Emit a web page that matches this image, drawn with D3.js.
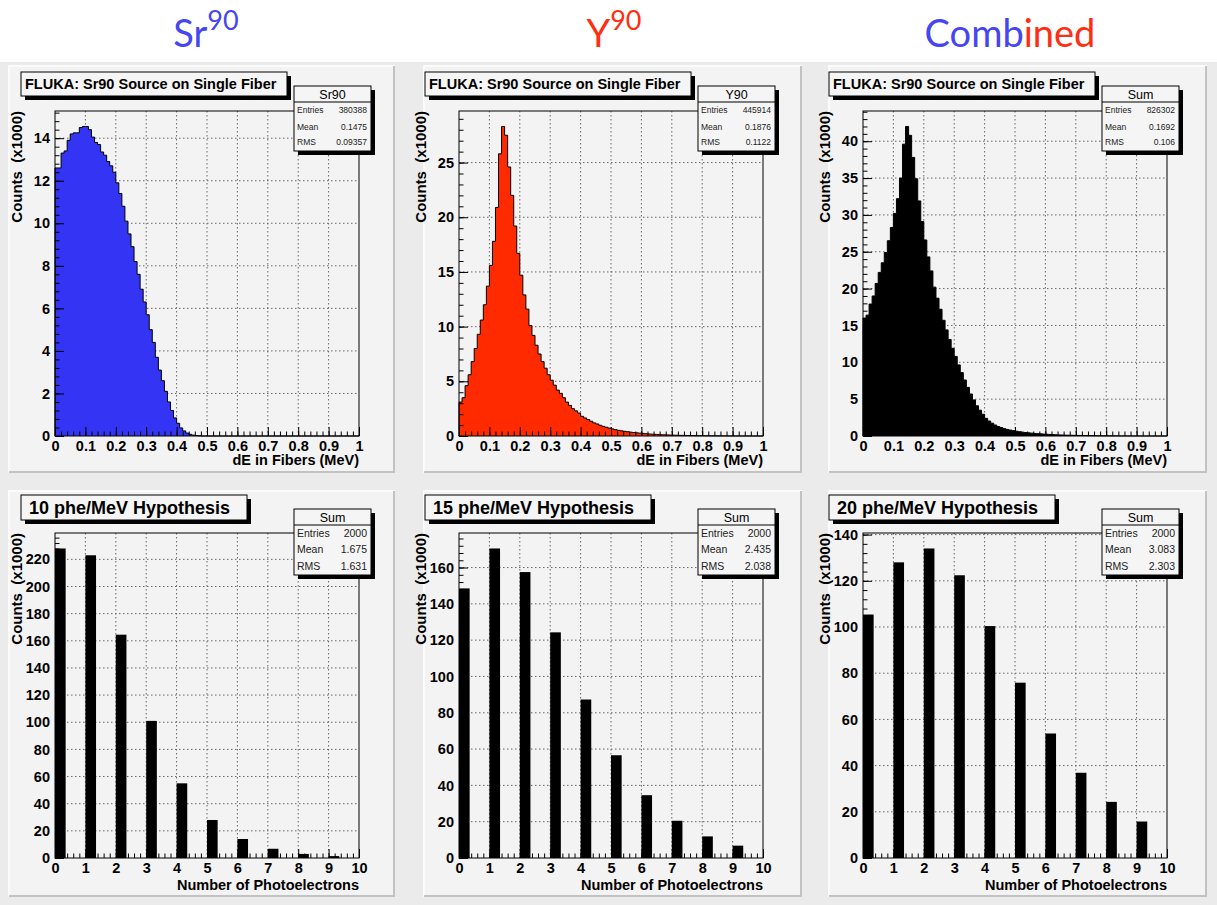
<!DOCTYPE html>
<html>
<head>
<meta charset="utf-8">
<script src="https://cdn.jsdelivr.net/npm/d3@7"></script>
<style>
html, body { margin: 0; padding: 0; background: #fff; }
svg { display: block; }
text { font-family: "Liberation Sans", Arial, Helvetica, sans-serif; }
</style>
</head>
<body>
<svg id="chart" width="1217" height="905"></svg>
<script>
// energy deposit histograms, 100 bins over 0..1 MeV, counts in thousands
const energyRange = [0, 1];
const srCounts = [
  12.6, 12.6, 13.3, 13.4, 13.9, 14.2, 14.25, 14.25, 14.5, 14.55,
  14.55, 14.4, 14.05, 13.8, 13.7, 13.35, 13.2, 12.9, 12.7, 12.4,
  11.9, 11.4, 10.8, 10.1, 9.5, 8.9, 8.2, 7.6, 6.9, 6.3,
  5.7, 5.0, 4.4, 3.7, 3.1, 2.6, 2.1, 1.6, 1.2, 0.85,
  0.6, 0.38, 0.24, 0.14, 0.08, 0.04, 0.02, 0.01, 0, 0,
  0, 0, 0, 0, 0, 0, 0, 0, 0, 0,
  0, 0, 0, 0, 0, 0, 0, 0, 0, 0,
  0, 0, 0, 0, 0, 0, 0, 0, 0, 0,
  0, 0, 0, 0, 0, 0, 0, 0, 0, 0,
  0, 0, 0, 0, 0, 0, 0, 0, 0, 0
];
const yCounts = [
  3.1, 3.5, 4.6, 5.6, 6.8, 8.0, 9.3, 10.6, 12.0, 13.7,
  15.6, 17.8, 20.9, 25.8, 28.3, 27.5, 24.6, 22.0, 19.2, 16.7,
  14.7, 12.9, 11.6, 10.1, 9.2, 8.3, 7.5, 6.8, 6.2, 5.6,
  5.1, 4.65, 4.2, 3.9, 3.5, 3.1, 2.8, 2.5, 2.3, 2.1,
  1.8, 1.65, 1.5, 1.35, 1.2, 1.1, 0.98, 0.88, 0.8, 0.72,
  0.65, 0.58, 0.52, 0.47, 0.43, 0.39, 0.35, 0.32, 0.29, 0.26,
  0.24, 0.21, 0.19, 0.17, 0.15, 0.14, 0.12, 0.11, 0.1, 0.09,
  0.08, 0.07, 0.06, 0.055, 0.05, 0.045, 0.04, 0.035, 0.03, 0.028,
  0.025, 0.022, 0.02, 0.018, 0.016, 0.014, 0.012, 0.01, 0.009, 0.008,
  0.007, 0.006, 0.005, 0.004, 0.003, 0.002, 0.002, 0.001, 0.001, 0
];
const sumCounts = [
  16.0, 16.4, 17.9, 19.0, 20.7, 22.2, 23.5, 24.9, 26.5, 28.3,
  30.2, 32.2, 35.0, 39.6, 42.0, 40.8, 37.8, 34.9, 31.9, 29.1,
  26.6, 24.3, 22.4, 20.2, 18.7, 17.2, 15.7, 14.4, 13.1, 11.9,
  10.8, 9.65, 8.6, 7.6, 6.6, 5.7, 4.9, 4.1, 3.5, 2.95,
  2.4, 2.03, 1.74, 1.49, 1.28, 1.14, 1.0, 0.89, 0.8, 0.72,
  0.65, 0.58, 0.52, 0.47, 0.43, 0.39, 0.35, 0.32, 0.29, 0.26,
  0.24, 0.21, 0.19, 0.17, 0.15, 0.14, 0.12, 0.11, 0.1, 0.09,
  0.08, 0.07, 0.06, 0.055, 0.05, 0.045, 0.04, 0.035, 0.03, 0.028,
  0.025, 0.022, 0.02, 0.018, 0.016, 0.014, 0.012, 0.01, 0.009, 0.008,
  0.007, 0.006, 0.005, 0.004, 0.003, 0.002, 0.002, 0.001, 0.001, 0
];

// photoelectron counts (x1000) for 0..9 phe
const pheNumbers = [0, 1, 2, 3, 4, 5, 6, 7, 8, 9];
const phe10 = [228, 223, 164.5, 101, 55, 28, 14, 6.8, 3.0, 1.4];
const phe15 = [148.5, 170.5, 157.5, 124.3, 87.3, 56.6, 34.6, 20.5, 11.9, 6.8];
const phe20 = [105.4, 128, 134, 122.4, 100.4, 75.9, 53.9, 36.9, 24.3, 15.8];

// tick labels
const energyTicks = [0, 0.1, 0.2, 0.3, 0.4, 0.5, 0.6, 0.7, 0.8, 0.9, 1];
const pheTicks = [0, 1, 2, 3, 4, 5, 6, 7, 8, 9, 10];

// stat boxes
const statNames = ['Entries', 'Mean', 'RMS'];
const srStats = ['380388', '0.1475', '0.09357'];
const yStats = ['445914', '0.1876', '0.1122'];
const sumStats = ['826302', '0.1692', '0.106'];
const phe10Stats = ['2000', '1.675', '1.631'];
const phe15Stats = ['2000', '2.435', '2.038'];
const phe20Stats = ['2000', '3.083', '2.303'];

const W = 1217, H = 905;
const svg = d3.select('#chart');

svg.append('rect').attr('x', 0).attr('y', 62).attr('width', W).attr('height', H - 62).attr('fill', '#ebebeb');

// column headers
const blue = '#4545f2', red = '#ff2d12';
let head = svg.append('g');
let h1 = head.append('text').attr('x', 206).attr('y', 47).attr('text-anchor', 'middle')
  .style('font-family', 'Lato').attr('font-size', 38).attr('fill', blue);
h1.append('tspan').text('Sr');
h1.append('tspan').attr('font-size', 27).attr('dy', -17).text('90');
let h2 = head.append('text').attr('x', 614).attr('y', 47).attr('text-anchor', 'middle')
  .style('font-family', 'Lato').attr('font-size', 38).attr('fill', red);
h2.append('tspan').text('Y');
h2.append('tspan').attr('font-size', 27).attr('dy', -17).text('90');
let h3 = head.append('text').attr('x', 1010).attr('y', 47).attr('text-anchor', 'middle')
  .style('font-family', 'Lato').attr('font-size', 38);
h3.append('tspan').attr('fill', blue).text('Comb');
h3.append('tspan').attr('fill', red).text('ined');

// layout of the 3x2 grid of ROOT canvases
const cols = [
  {cx: 8, cw: 387, fx: 55},
  {cx: 423, cw: 379, fx: 459},
  {cx: 828, cw: 379, fx: 863}
];
const rows = [
  {cy: 65, ch: 408, fy: 111, fh: 325, ty: 72, th: 24, tw: 266, tpad: 4, tsize: 14.5,
   sy: 86, sh: 65, hh: 16, hsize: 12.5, rowY: [110, 126.5, 142], rsize: 8.5, titleY: 465},
  {cy: 490, ch: 407, fy: 533, fh: 325, ty: 495, th: 25, tw: 226, tpad: 8, tsize: 18,
   sy: 509, sh: 66, hh: 16, hsize: 12.5, rowY: [533, 549, 566], rsize: 10.5, titleY: 890}
];
const fw = 304;

function drawPanel(c, r, opt) {
  const g = svg.append('g');
  // canvas with bevel
  g.append('rect').attr('x', c.cx).attr('y', r.cy).attr('width', c.cw).attr('height', r.ch).attr('fill', '#f3f3f3');
  g.append('path').attr('d', `M${c.cx + 1},${r.cy + r.ch}V${r.cy + 1}H${c.cx + c.cw}`)
    .attr('fill', 'none').attr('stroke', '#fbfbfb').attr('stroke-width', 2);
  g.append('path').attr('d', `M${c.cx + 1},${r.cy + r.ch - 1}H${c.cx + c.cw - 1}V${r.cy + 1}`)
    .attr('fill', 'none').attr('stroke', '#c2c2c2').attr('stroke-width', 2);

  const x = d3.scaleLinear().domain(opt.xDomain).range([c.fx, c.fx + fw]);
  const y = d3.scaleLinear().domain([0, d3.max(opt.values) * 1.05]).range([r.fy + r.fh, r.fy]);

  // dotted grid at major ticks
  const yMajor = d3.range(0, y.domain()[1], opt.yStep);
  const grid = g.append('g').attr('stroke', '#666').attr('stroke-dasharray', '1.5,2.5').attr('stroke-width', 1);
  grid.selectAll('line.v').data(opt.xTicks.slice(1, -1)).join('line')
    .attr('x1', d => x(d)).attr('x2', d => x(d)).attr('y1', r.fy).attr('y2', r.fy + r.fh);
  grid.selectAll('line.h').data(yMajor.slice(1)).join('line')
    .attr('x1', c.fx).attr('x2', c.fx + fw).attr('y1', d => y(d)).attr('y2', d => y(d));

  if (opt.kind === 'hist') {
    const n = opt.values.length;
    const bw = (opt.xDomain[1] - opt.xDomain[0]) / n;
    const pts = [[opt.xDomain[0], 0]];
    opt.values.forEach((v, i) => {
      pts.push([opt.xDomain[0] + i * bw, v]);
      pts.push([opt.xDomain[0] + (i + 1) * bw, v]);
    });
    pts.push([opt.xDomain[1], 0]);
    g.append('path').datum(pts)
      .attr('d', d3.area().x(d => x(d[0])).y0(y(0)).y1(d => y(d[1])))
      .attr('fill', opt.color);
    g.append('path').datum(pts)
      .attr('d', d3.line().x(d => x(d[0])).y(d => y(d[1])))
      .attr('fill', 'none').attr('stroke', '#000').attr('stroke-width', 1);
  } else {
    g.selectAll('rect.bar').data(opt.values).join('rect')
      .attr('x', (d, i) => x(opt.bins[i]))
      .attr('width', (d, i) => x(opt.bins[i] + 0.35) - x(opt.bins[i]))
      .attr('y', d => y(d))
      .attr('height', d => y(0) - y(d))
      .attr('fill', '#000');
  }

  // axes: inward ticks, ROOT style
  const xMinor = d3.range(opt.xDomain[0], opt.xDomain[1] + 1e-9, opt.xMinor);
  const yMinor = d3.range(0, y.domain()[1], opt.yStep / 5);
  const fontAx = g => g.attr('font-family', '"Liberation Sans", Arial, sans-serif')
    .attr('font-size', 14.5).attr('font-weight', 'bold');

  g.append('g').attr('transform', `translate(0,${r.fy + r.fh})`)
    .call(d3.axisBottom(x).tickValues(xMinor).tickSize(-4.5).tickFormat(''))
    .call(s => s.select('.domain').remove());
  g.append('g').attr('transform', `translate(0,${r.fy + r.fh})`)
    .call(d3.axisBottom(x).tickValues(opt.xTicks).tickSize(-9).tickPadding(5).tickFormat(opt.xFmt))
    .call(s => s.select('.domain').remove())
    .call(fontAx)
    .call(s => s.selectAll('text').attr('fill', '#000'));
  g.append('g').attr('transform', `translate(${c.fx},0)`)
    .call(d3.axisLeft(y).tickValues(yMinor).tickSize(-4.5).tickFormat(''))
    .call(s => s.select('.domain').remove());
  g.append('g').attr('transform', `translate(${c.fx},0)`)
    .call(d3.axisLeft(y).tickValues(yMajor).tickSize(-9).tickPadding(5).tickFormat(d3.format('d')))
    .call(s => s.select('.domain').remove())
    .call(fontAx)
    .call(s => s.selectAll('text').attr('fill', '#000'));

  // frame
  g.append('rect').attr('x', c.fx).attr('y', r.fy).attr('width', fw).attr('height', r.fh)
    .attr('fill', 'none').attr('stroke', '#000').attr('stroke-width', 1);

  // axis titles
  g.append('text').attr('x', c.fx + fw).attr('y', r.titleY).attr('text-anchor', 'end')
    .attr('font-size', 14.5).attr('font-weight', 'bold').text(opt.xTitle);
  g.append('text').attr('transform', `translate(${c.fx - 33},${r.fy}) rotate(-90)`)
    .attr('text-anchor', 'end').attr('font-size', 15).attr('font-weight', 'bold')
    .style('white-space', 'pre').text('Counts  (x1000)');

  // title box
  const tx = c.fx - 34;
  g.append('rect').attr('x', tx + 4).attr('y', r.ty + 4).attr('width', r.tw).attr('height', r.th).attr('fill', '#000');
  g.append('rect').attr('x', tx).attr('y', r.ty).attr('width', r.tw).attr('height', r.th)
    .attr('fill', '#f5f5f5').attr('stroke', '#000').attr('stroke-width', 1);
  g.append('text').attr('x', tx + r.tpad).attr('y', r.ty + r.th / 2 + r.tsize * 0.36)
    .attr('font-size', r.tsize).attr('font-weight', 'bold').text(opt.title);

  // stats box
  const sx = c.fx + 239, sw = 77;
  g.append('rect').attr('x', sx + 4).attr('y', r.sy + 4).attr('width', sw).attr('height', r.sh).attr('fill', '#000');
  g.append('rect').attr('x', sx).attr('y', r.sy).attr('width', sw).attr('height', r.sh)
    .attr('fill', '#f5f5f5').attr('stroke', '#000').attr('stroke-width', 1);
  g.append('line').attr('x1', sx).attr('x2', sx + sw).attr('y1', r.sy + r.hh).attr('y2', r.sy + r.hh)
    .attr('stroke', '#000');
  g.append('text').attr('x', sx + sw / 2).attr('y', r.sy + r.hh / 2 + r.hsize * 0.36).attr('text-anchor', 'middle')
    .attr('font-size', r.hsize).text(opt.statTitle);
  statNames.forEach((name, i) => {
    g.append('text').attr('x', sx + 3).attr('y', r.rowY[i] + r.rsize * 0.36)
      .attr('font-size', r.rsize).attr('fill', '#222').text(name);
    g.append('text').attr('x', sx + sw - 4).attr('y', r.rowY[i] + r.rsize * 0.36).attr('text-anchor', 'end')
      .attr('font-size', r.rsize).attr('fill', '#222').text(opt.stats[i]);
  });
}

const eFmt = d => d === 0 ? '0' : d === 1 ? '1' : d3.format('.1f')(d);
const topTitle = 'FLUKA: Sr90 Source on Single Fiber';
const eTitle = 'dE in Fibers (MeV)';
const pTitle = 'Number of Photoelectrons';

drawPanel(cols[0], rows[0], {kind: 'hist', values: srCounts, color: '#3434f5', xDomain: energyRange,
  xTicks: energyTicks, xMinor: 0.02, xFmt: eFmt, yStep: 2, xTitle: eTitle, title: topTitle,
  statTitle: 'Sr90', stats: srStats});
drawPanel(cols[1], rows[0], {kind: 'hist', values: yCounts, color: '#ff2a00', xDomain: energyRange,
  xTicks: energyTicks, xMinor: 0.02, xFmt: eFmt, yStep: 5, xTitle: eTitle, title: topTitle,
  statTitle: 'Y90', stats: yStats});
drawPanel(cols[2], rows[0], {kind: 'hist', values: sumCounts, color: '#000', xDomain: energyRange,
  xTicks: energyTicks, xMinor: 0.02, xFmt: eFmt, yStep: 5, xTitle: eTitle, title: topTitle,
  statTitle: 'Sum', stats: sumStats});

drawPanel(cols[0], rows[1], {kind: 'bar', values: phe10, bins: pheNumbers, xDomain: [0, 10],
  xTicks: pheTicks, xMinor: 0.2, xFmt: d3.format('d'), yStep: 20, xTitle: pTitle,
  title: '10 phe/MeV Hypothesis', statTitle: 'Sum', stats: phe10Stats});
drawPanel(cols[1], rows[1], {kind: 'bar', values: phe15, bins: pheNumbers, xDomain: [0, 10],
  xTicks: pheTicks, xMinor: 0.2, xFmt: d3.format('d'), yStep: 20, xTitle: pTitle,
  title: '15 phe/MeV Hypothesis', statTitle: 'Sum', stats: phe15Stats});
drawPanel(cols[2], rows[1], {kind: 'bar', values: phe20, bins: pheNumbers, xDomain: [0, 10],
  xTicks: pheTicks, xMinor: 0.2, xFmt: d3.format('d'), yStep: 20, xTitle: pTitle,
  title: '20 phe/MeV Hypothesis', statTitle: 'Sum', stats: phe20Stats});
</script>
</body>
</html>
